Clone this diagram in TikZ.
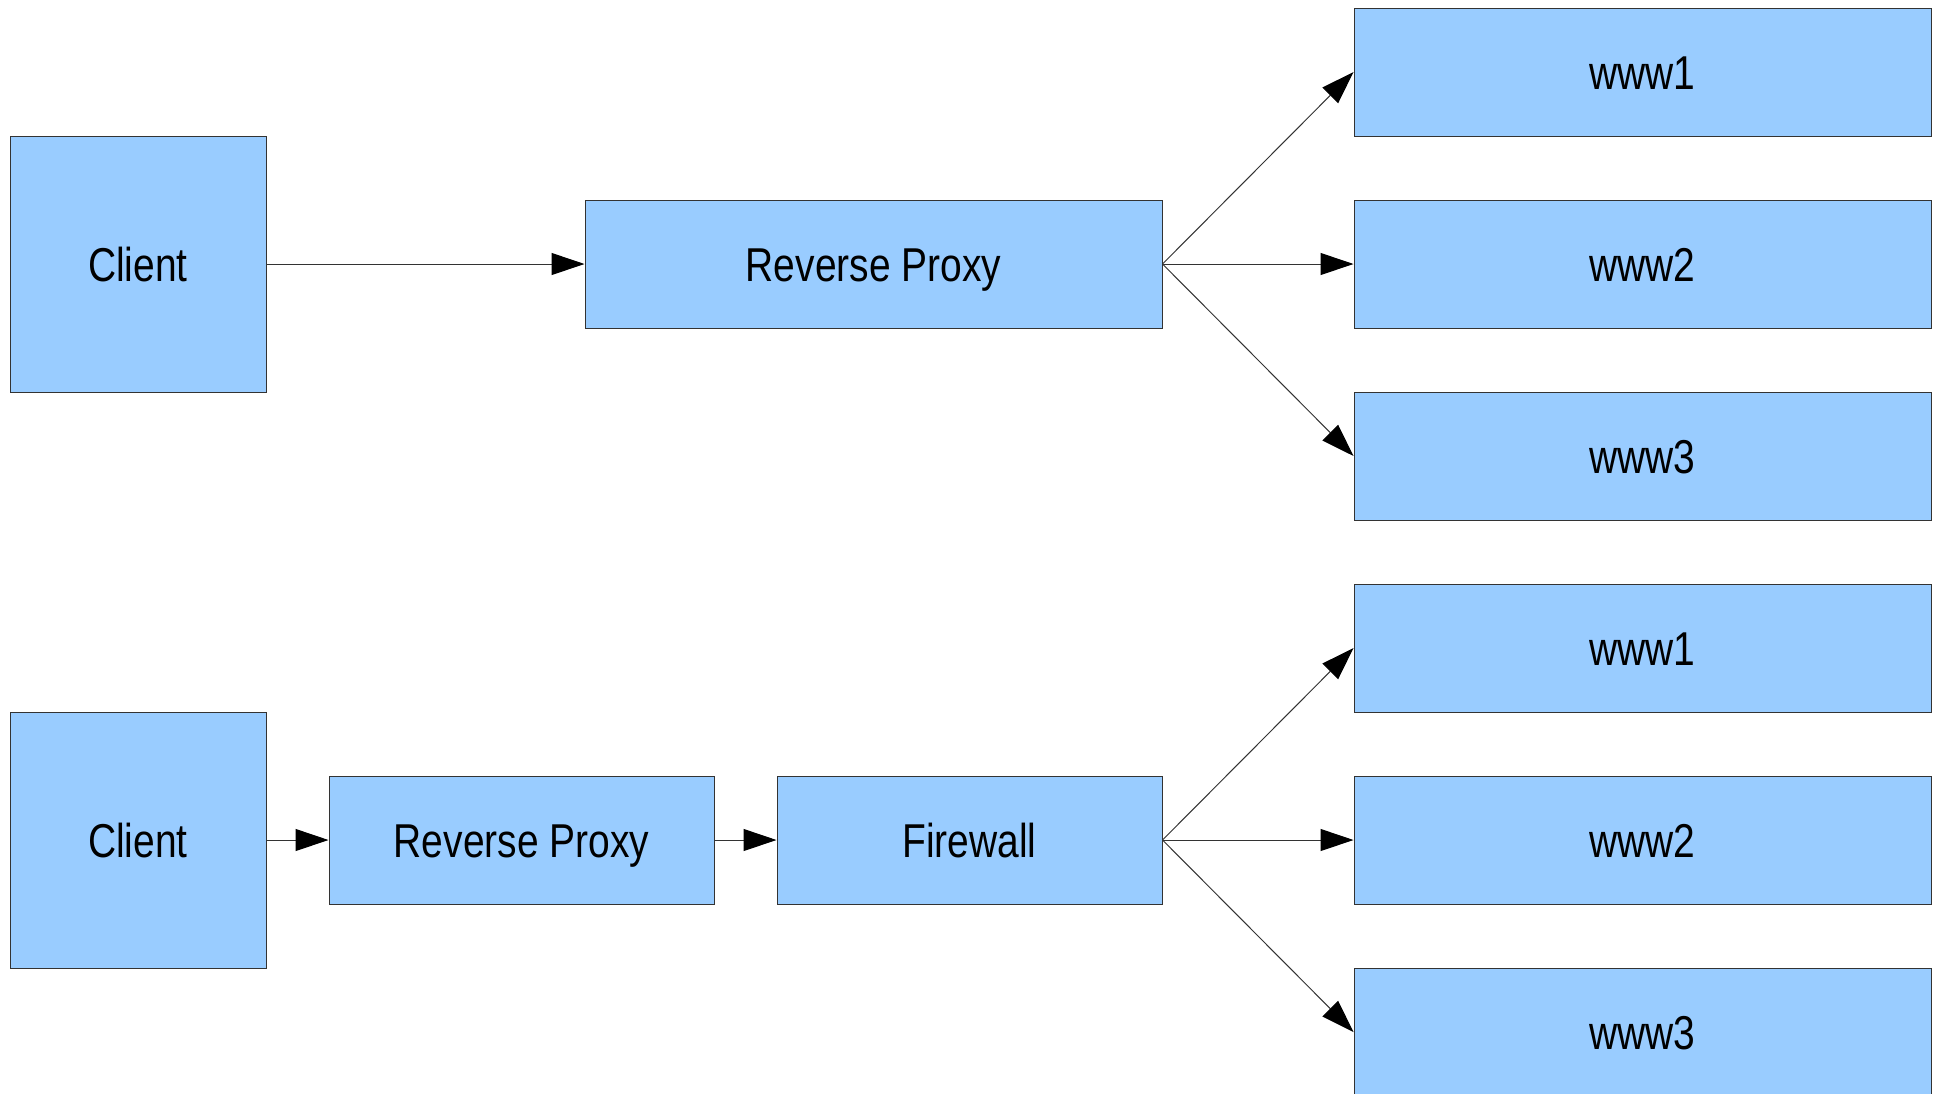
\documentclass[tikz,border=0pt]{standalone}
\usepackage{fontspec}
\setmainfont{Liberation Sans}
\usetikzlibrary{arrows.meta}
\definecolor{boxblue}{HTML}{99CCFF}
\definecolor{edgegray}{HTML}{333333}
\newcommand{\lbl}[1]{\scalebox{0.82}[1]{#1}}

\begin{document}
\begin{tikzpicture}[x=0.5pt,y=-0.5pt]
            \tikzstyle{every node}+=[inner sep=0pt]
            \tikzstyle{box}=[draw=edgegray, fill=boxblue, line width=0.5pt, text height=17pt, text depth=0pt, font=\fontsize{23.75}{28}\selectfont]
            \tikzstyle{sq}=[box, minimum width=128pt, minimum height=128pt]
            \tikzstyle{wide}=[box, minimum width=288.5pt, minimum height=64pt]
            \tikzstyle{half}=[box, minimum width=192.5pt, minimum height=64pt]
            \tikzstyle{link}=[draw=edgegray, line width=0.5pt, -{Triangle[length=16.5pt,width=11pt,color=black]}]
            \useasboundingbox (0,0) rectangle (1941,1093);
            % reverse proxy only
            \node [sq] (client) at (138,264) {\lbl{Client}};
            \node [wide] (proxy) at (873.5,264) {\lbl{Reverse Proxy}};
            \node [wide] (www1) at (1642.5,72) {\lbl{www1}};
            \node [wide] (www2) at (1642.5,264) {\lbl{www2}};
            \node [wide] (www3) at (1642.5,456) {\lbl{www3}};
            \draw [link] (client) -- (proxy);
            \draw [link] (proxy.east) -- (www1.west);
            \draw [link] (proxy.east) -- (www2.west);
            \draw [link] (proxy.east) -- (www3.west);
            % reverse proxy and firewall
            \node [sq] (clientb) at (138,840) {\lbl{Client}};
            \node [half] (proxyb) at (521.5,840) {\lbl{Reverse Proxy}};
            \node [half] (firewall) at (969.5,840) {\lbl{Firewall}};
            \node [wide] (wwwb1) at (1642.5,648) {\lbl{www1}};
            \node [wide] (wwwb2) at (1642.5,840) {\lbl{www2}};
            \node [wide] (wwwb3) at (1642.5,1032) {\lbl{www3}};
            \draw [link] (clientb) -- (proxyb);
            \draw [link] (proxyb) -- (firewall);
            \draw [link] (firewall.east) -- (wwwb1.west);
            \draw [link] (firewall.east) -- (wwwb2.west);
            \draw [link] (firewall.east) -- (wwwb3.west);
        \end{tikzpicture}
\end{document}
